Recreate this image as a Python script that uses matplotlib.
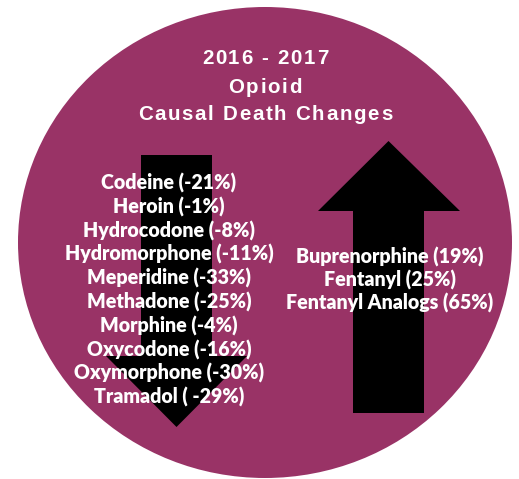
"""
Opioid causal death changes, 2016 - 2017
"""

import matplotlib
matplotlib.use("Agg")
import matplotlib.pyplot as plt
from matplotlib.patches import Ellipse, Polygon
from matplotlib.font_manager import FontProperties
from matplotlib.textpath import TextToPath

title_lines = ["2016 - 2017", "Opioid", "Causal Death Changes"]

down_labels = ["Codeine (-21%)", "Heroin (-1%)", "Hydrocodone (-8%)",
               "Hydromorphone (-11%)", "Meperidine (-33%)", "Methadone (-25%)",
               "Morphine (-4%)", "Oxycodone (-16%)", "Oxymorphone (-30%)",
               "Tramadol ( -29%)"]
up_labels = ["Buprenorphine (19%)", "Fentanyl (25%)", "Fentanyl Analogs (65%)"]

MAROON = "#993366"
W, H = 519, 479
PX = 72 / 100  # pixels -> points at dpi 100


def spaced_text(ax, s, xc, y, fp, spacing):
    # draw text with extra letter spacing, centred on xc (pixel coords)
    t2p = TextToPath()
    widths = [t2p.get_text_width_height_descent(c, fp, ismath=False)[0] / PX for c in s]
    total = sum(widths) + spacing * (len(s) - 1)
    x = xc - total / 2
    for c, w in zip(s, widths):
        ax.text(x, y, c, fontproperties=fp, color="white", ha="left", va="center")
        x += w + spacing


fig = plt.figure(figsize=(W / 100, H / 100), dpi=100)
ax = fig.add_axes([0, 0, 1, 1])
ax.set_xlim(0, W)
ax.set_ylim(H, 0)
ax.axis("off")

ax.add_patch(Ellipse((265, 242.5), 494, 471, color=MAROON, lw=0))

# down arrow
ax.add_patch(Polygon([(141, 155), (212, 155), (212, 356), (247, 356),
                      (176.5, 427), (106, 356), (141, 356)], closed=True, color="black", lw=0))
# up arrow
ax.add_patch(Polygon([(353, 413), (424, 413), (424, 211), (460, 211),
                      (388.5, 141), (318, 211), (353, 211)], closed=True, color="black", lw=0))

title_fp = FontProperties(family="Liberation Sans", weight="bold", size=20.5 * PX)
for line, y in zip(title_lines, [58, 87, 114]):
    spaced_text(ax, line, 265, y, title_fp, 1.7)

list_fp = FontProperties(family="Lato", weight="heavy", size=19.6 * PX)
y0, dy = 183, 23.8
for i, lab in enumerate(down_labels):
    ax.text(169, y0 + i * dy, lab, fontproperties=list_fp, color="white",
            ha="center", va="center")
for i, lab in enumerate(up_labels):
    ax.text(390, 256.5 + i * 23.4, lab, fontproperties=list_fp, color="white",
            ha="center", va="center")

plt.savefig("out.png", dpi=100, facecolor="white")
